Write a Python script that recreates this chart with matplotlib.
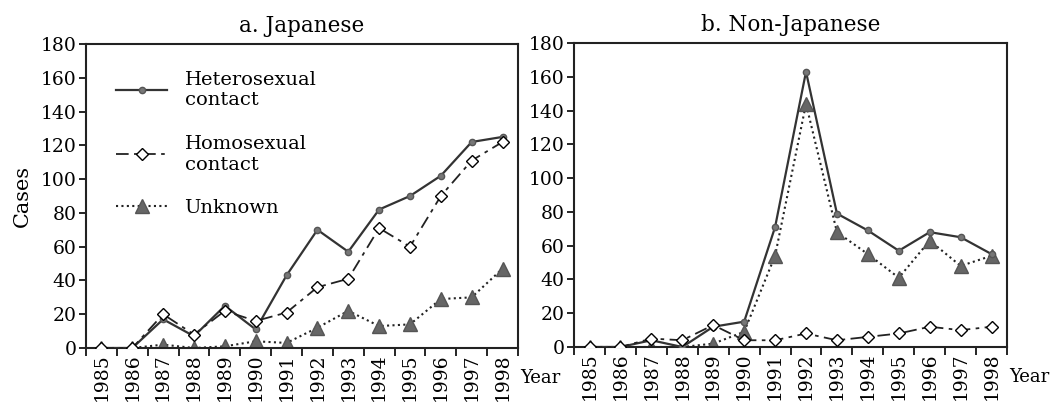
import numpy as np
import matplotlib
matplotlib.use('Agg')
import matplotlib.pyplot as plt

plt.rcParams['font.family'] = ['DejaVu Serif']

years = list(range(1985, 1999))

# a. Japanese
jp_hetero = [0, 0, 17, 7, 25, 11, 43, 70, 57, 82, 90, 102, 122, 125]
jp_homo = [0, 0, 20, 8, 22, 16, 21, 36, 41, 71, 60, 90, 111, 122]
jp_unknown = [0, 0, 2, 0, 1, 4, 3, 12, 22, 13, 14, 29, 30, 47]

# b. Non-Japanese
nj_hetero = [0, 0, 4, 0, 12, 15, 71, 163, 79, 69, 57, 68, 65, 55]
nj_homo = [0, 0, 5, 4, 13, 4, 4, 8, 4, 6, 8, 12, 10, 12]
nj_unknown = [0, 0, 0, 0, 2, 9, 54, 144, 68, 55, 41, 63, 48, 54]

titles = ['a. Japanese', 'b. Non-Japanese']
labels = ['Heterosexual\ncontact', 'Homosexual\ncontact', 'Unknown']

fig = plt.figure(figsize=(10.5, 4.05), dpi=100)
ax1 = fig.add_axes([0.0819, 0.1407, 0.4114, 0.7506])
ax2 = fig.add_axes([0.5467, 0.1432, 0.4124, 0.7506])

x = np.arange(len(years))


def draw(ax, hetero, homo, unknown, title):
    ax.plot(x, hetero, color='#333333', lw=1.6, marker='o', ms=4.5,
            mfc='#777777', mec='#555555', label=labels[0], zorder=3)
    ax.plot(x, homo, color='#222222', lw=1.3, dashes=(7, 3, 2, 3),
            marker='D', ms=6, mfc='white', mec='black', mew=1.0,
            label=labels[1], zorder=4)
    ax.plot(x, unknown, color='#222222', lw=1.5, ls=(0, (1, 1.6)),
            marker='^', ms=10, mfc='#666666', mec='#555555',
            label=labels[2], zorder=2)
    ax.set_xlim(-0.5, len(years) - 0.5)
    ax.set_ylim(0, 180)
    ax.set_yticks(range(0, 181, 20))
    ax.set_xticks(np.arange(-0.5, len(years), 1.0), minor=True)
    ax.set_xticks(x)
    ax.set_xticklabels([str(y) for y in years], rotation=90, fontsize=13.5)
    ax.tick_params(axis='x', which='major', length=0, pad=4)
    ax.tick_params(axis='x', which='minor', length=6, width=1.2, direction='out')
    ax.tick_params(axis='y', length=5, width=1.2, direction='out', labelsize=13.5, pad=2)
    for s in ax.spines.values():
        s.set_linewidth(1.5)
        s.set_color('#222222')
    ax.set_title(title, fontsize=15.5, pad=9)
    ax.text(1.005, -0.07, 'Year', transform=ax.transAxes, fontsize=13,
            ha='left', va='top')


draw(ax1, jp_hetero, jp_homo, jp_unknown, titles[0])
draw(ax2, nj_hetero, nj_homo, nj_unknown, titles[1])

ax1.set_ylabel('Cases', fontsize=15, labelpad=6)

ax1.legend(loc='upper left', bbox_to_anchor=(0.03, 0.97), frameon=False,
           fontsize=14, handlelength=2.6, labelspacing=1.3,
           handletextpad=0.9)

fig.savefig('out.png', dpi=100)
